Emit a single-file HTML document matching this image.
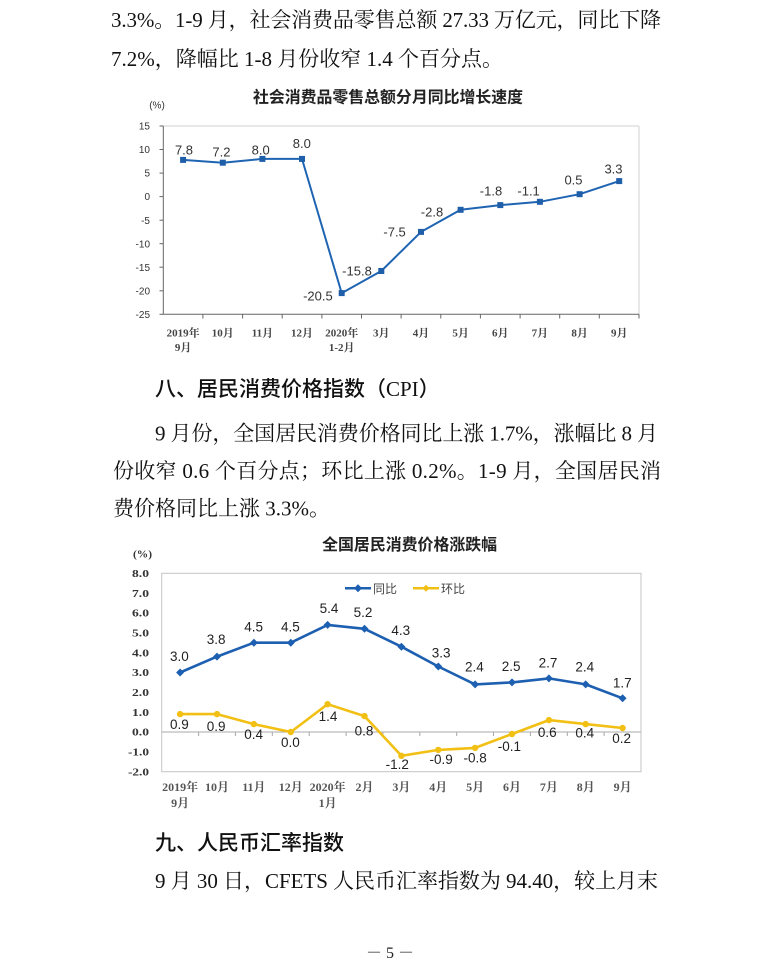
<!DOCTYPE html>
<html>
<head>
<meta charset="utf-8">
<style>
html,body{margin:0;padding:0;background:#fff;}
svg{display:block;}
.body{font-family:"Liberation Serif","Noto Serif CJK SC",serif;font-size:21px;fill:#111;}
.hd{font-family:"Liberation Sans","Noto Sans CJK SC",sans-serif;font-size:21px;font-weight:500;fill:#111;}
.ttl{font-family:"Liberation Sans","Noto Sans CJK SC",sans-serif;font-size:16px;font-weight:600;fill:#222;}
.yl1{font-family:"Liberation Sans",sans-serif;font-size:10px;fill:#333;}
.dl1{font-family:"Liberation Sans",sans-serif;font-size:13px;fill:#333;}
.xl{font-family:"Liberation Serif","Noto Serif CJK SC",serif;font-size:11px;font-weight:bold;fill:#444;}
.xl2{font-family:"Liberation Serif","Noto Serif CJK SC",serif;font-size:12px;font-weight:bold;fill:#555;}
.yl2{font-family:"Liberation Serif",serif;font-size:10.5px;font-weight:bold;fill:#333;}
.dl2{font-family:"Liberation Sans",sans-serif;font-size:13.5px;fill:#222;}
.lg{font-family:"Liberation Sans","Noto Sans CJK SC",sans-serif;font-size:12px;fill:#444;}
</style>
</head>
<body>
<svg width="776" height="959" viewBox="0 0 776 959" xmlns="http://www.w3.org/2000/svg">
<rect width="776" height="959" fill="#fff"/>

<!-- Top text -->
<text class="body" x="111" y="27" textLength="550" lengthAdjust="spacing">3.3%。1-9 月，社会消费品零售总额 27.33 万亿元，同比下降</text>
<text class="body" x="111" y="66">7.2%，降幅比 1-8 月份收窄 1.4 个百分点。</text>

<!-- Chart 1 -->
<text class="ttl" x="388" y="102.5" text-anchor="middle" textLength="270" lengthAdjust="spacingAndGlyphs">社会消费品零售总额分月同比增长速度</text>
<text class="yl1" x="157" y="108.5" text-anchor="middle">(%)</text>
<!-- plot border -->
<line x1="163.3" y1="126" x2="639" y2="126" stroke="#d0d0d0" stroke-width="1"/>
<line x1="639" y1="126" x2="639" y2="314.3" stroke="#d0d0d0" stroke-width="1"/>
<line x1="163.3" y1="126" x2="163.3" y2="314.3" stroke="#666" stroke-width="1"/>
<line x1="163.3" y1="314.3" x2="639" y2="314.3" stroke="#666" stroke-width="1"/>
<!-- y ticks -->
<g stroke="#666" stroke-width="1">
<line x1="159.5" y1="126" x2="163.3" y2="126"/>
<line x1="159.5" y1="149.5" x2="163.3" y2="149.5"/>
<line x1="159.5" y1="173.1" x2="163.3" y2="173.1"/>
<line x1="159.5" y1="196.6" x2="163.3" y2="196.6"/>
<line x1="159.5" y1="220.2" x2="163.3" y2="220.2"/>
<line x1="159.5" y1="243.7" x2="163.3" y2="243.7"/>
<line x1="159.5" y1="267.2" x2="163.3" y2="267.2"/>
<line x1="159.5" y1="290.8" x2="163.3" y2="290.8"/>
<line x1="159.5" y1="314.3" x2="163.3" y2="314.3"/>
</g>
<g class="yl1" text-anchor="end">
<text x="150" y="129.6">15</text>
<text x="150" y="153.1">10</text>
<text x="150" y="176.7">5</text>
<text x="150" y="200.2">0</text>
<text x="150" y="223.8">-5</text>
<text x="150" y="247.3">-10</text>
<text x="150" y="270.8">-15</text>
<text x="150" y="294.4">-20</text>
<text x="150" y="317.9">-25</text>
</g>
<!-- x ticks -->
<g stroke="#666" stroke-width="1">
<line x1="202.9" y1="314.3" x2="202.9" y2="318.5"/>
<line x1="242.6" y1="314.3" x2="242.6" y2="318.5"/>
<line x1="282.2" y1="314.3" x2="282.2" y2="318.5"/>
<line x1="321.9" y1="314.3" x2="321.9" y2="318.5"/>
<line x1="361.5" y1="314.3" x2="361.5" y2="318.5"/>
<line x1="401.1" y1="314.3" x2="401.1" y2="318.5"/>
<line x1="440.8" y1="314.3" x2="440.8" y2="318.5"/>
<line x1="480.4" y1="314.3" x2="480.4" y2="318.5"/>
<line x1="520.1" y1="314.3" x2="520.1" y2="318.5"/>
<line x1="559.7" y1="314.3" x2="559.7" y2="318.5"/>
<line x1="599.3" y1="314.3" x2="599.3" y2="318.5"/>
<line x1="639" y1="314.3" x2="639" y2="318.5"/>
</g>
<g class="xl" text-anchor="middle">
<text x="183.1" y="336.5">2019年</text>
<text x="183.1" y="351">9月</text>
<text x="222.8" y="336.5">10月</text>
<text x="262.4" y="336.5">11月</text>
<text x="302.0" y="336.5">12月</text>
<text x="341.7" y="336.5">2020年</text>
<text x="341.7" y="351">1-2月</text>
<text x="381.3" y="336.5">3月</text>
<text x="421.0" y="336.5">4月</text>
<text x="460.6" y="336.5">5月</text>
<text x="500.3" y="336.5">6月</text>
<text x="539.9" y="336.5">7月</text>
<text x="579.6" y="336.5">8月</text>
<text x="619.2" y="336.5">9月</text>
</g>
<!-- series -->
<polyline fill="none" stroke="#1f64b2" stroke-width="2" stroke-linejoin="round"
 points="183.1,159.9 222.8,162.7 262.4,158.9 302.0,158.9 341.7,293.1 381.3,271.0 421.0,231.9 460.6,209.8 500.3,205.1 539.9,201.8 579.6,194.2 619.2,181.1"/>
<g fill="#1f5faa">
<rect x="180.1" y="156.9" width="6" height="6"/>
<rect x="219.8" y="159.7" width="6" height="6"/>
<rect x="259.4" y="155.9" width="6" height="6"/>
<rect x="299.0" y="155.9" width="6" height="6"/>
<rect x="338.7" y="290.1" width="6" height="6"/>
<rect x="378.3" y="268.0" width="6" height="6"/>
<rect x="418.0" y="228.9" width="6" height="6"/>
<rect x="457.6" y="206.8" width="6" height="6"/>
<rect x="497.3" y="202.1" width="6" height="6"/>
<rect x="536.9" y="198.8" width="6" height="6"/>
<rect x="576.6" y="191.2" width="6" height="6"/>
<rect x="616.2" y="178.1" width="6" height="6"/>
</g>
<g class="dl1" text-anchor="middle">
<text x="184" y="154.6">7.8</text>
<text x="221.4" y="156.3">7.2</text>
<text x="260.7" y="154.6">8.0</text>
<text x="301.8" y="147.9">8.0</text>
<text x="317.9" y="300.6">-20.5</text>
<text x="357" y="275.3">-15.8</text>
<text x="394.6" y="236.3">-7.5</text>
<text x="432" y="216.3">-2.8</text>
<text x="491" y="195.6">-1.8</text>
<text x="528.6" y="195.6">-1.1</text>
<text x="573.5" y="184.6">0.5</text>
<text x="613.5" y="173.6">3.3</text>
</g>

<!-- Section 8 -->
<text class="hd" x="155" y="396">八、居民消费价格指数<tspan>（</tspan><tspan style="font-family:'Liberation Serif',serif;font-weight:normal">CPI</tspan><tspan>）</tspan></text>
<text class="body" x="155" y="440.5" textLength="503" lengthAdjust="spacing">9 月份，全国居民消费价格同比上涨 1.7%，涨幅比 8 月</text>
<text class="body" x="113" y="478" textLength="548" lengthAdjust="spacing">份收窄 0.6 个百分点；环比上涨 0.2%。1-9 月，全国居民消</text>
<text class="body" x="113" y="515.5">费价格同比上涨 3.3%。</text>

<!-- Chart 2 -->
<text class="ttl" x="409.6" y="550" text-anchor="middle" textLength="175" lengthAdjust="spacingAndGlyphs">全国居民消费价格涨跌幅</text>
<text class="yl2" x="142.5" y="557.5" text-anchor="middle" textLength="19" lengthAdjust="spacingAndGlyphs">(%)</text>
<rect x="161.7" y="573.3" width="479.3" height="198.4" fill="none" stroke="#c4c4c4" stroke-width="1"/>
<line x1="161.7" y1="732" x2="641" y2="732" stroke="#a8a8a8" stroke-width="1"/>
<g stroke="#a8a8a8" stroke-width="1">
<line x1="198.6" y1="732" x2="198.6" y2="736"/>
<line x1="235.4" y1="732" x2="235.4" y2="736"/>
<line x1="272.3" y1="732" x2="272.3" y2="736"/>
<line x1="309.2" y1="732" x2="309.2" y2="736"/>
<line x1="346.1" y1="732" x2="346.1" y2="736"/>
<line x1="382.9" y1="732" x2="382.9" y2="736"/>
<line x1="419.8" y1="732" x2="419.8" y2="736"/>
<line x1="456.7" y1="732" x2="456.7" y2="736"/>
<line x1="493.5" y1="732" x2="493.5" y2="736"/>
<line x1="530.4" y1="732" x2="530.4" y2="736"/>
<line x1="567.3" y1="732" x2="567.3" y2="736"/>
<line x1="604.1" y1="732" x2="604.1" y2="736"/>
</g>
<g class="yl2" text-anchor="end">
<text x="149" y="577" textLength="17" lengthAdjust="spacingAndGlyphs">8.0</text>
<text x="149" y="596.8" textLength="17" lengthAdjust="spacingAndGlyphs">7.0</text>
<text x="149" y="616.7" textLength="17" lengthAdjust="spacingAndGlyphs">6.0</text>
<text x="149" y="636.5" textLength="17" lengthAdjust="spacingAndGlyphs">5.0</text>
<text x="149" y="656.4" textLength="17" lengthAdjust="spacingAndGlyphs">4.0</text>
<text x="149" y="676.2" textLength="17" lengthAdjust="spacingAndGlyphs">3.0</text>
<text x="149" y="696" textLength="17" lengthAdjust="spacingAndGlyphs">2.0</text>
<text x="149" y="715.9" textLength="17" lengthAdjust="spacingAndGlyphs">1.0</text>
<text x="149" y="735.7" textLength="17" lengthAdjust="spacingAndGlyphs">0.0</text>
<text x="149" y="755.6" textLength="21" lengthAdjust="spacingAndGlyphs">-1.0</text>
<text x="149" y="775.4" textLength="21" lengthAdjust="spacingAndGlyphs">-2.0</text>
</g>
<g class="xl2" text-anchor="middle">
<text x="180.1" y="791">2019年</text>
<text x="180.1" y="807">9月</text>
<text x="217.0" y="791">10月</text>
<text x="253.9" y="791">11月</text>
<text x="290.8" y="791">12月</text>
<text x="327.6" y="791">2020年</text>
<text x="327.6" y="807">1月</text>
<text x="364.5" y="791">2月</text>
<text x="401.4" y="791">3月</text>
<text x="438.3" y="791">4月</text>
<text x="475.1" y="791">5月</text>
<text x="512.0" y="791">6月</text>
<text x="548.9" y="791">7月</text>
<text x="585.7" y="791">8月</text>
<text x="622.6" y="791">9月</text>
</g>
<!-- legend -->
<line x1="345" y1="588.3" x2="371" y2="588.3" stroke="#1d5fb0" stroke-width="2.5"/>
<path d="M358,584.3 L362,588.3 L358,592.3 L354,588.3 Z" fill="#1d5fb0"/>
<text class="lg" x="373" y="592.8">同比</text>
<line x1="413" y1="588.3" x2="439" y2="588.3" stroke="#f2c014" stroke-width="2.5"/>
<path d="M426,584.8 L429.5,588.3 L426,591.8 L422.5,588.3 Z" fill="#f2c014"/>
<text class="lg" x="441" y="592.8">环比</text>
<!-- blue series -->
<polyline fill="none" stroke="#1d5fb0" stroke-width="2.6" stroke-linejoin="round"
 points="180.1,672.5 217.0,656.6 253.9,642.7 290.8,642.7 327.6,624.9 364.5,628.8 401.4,646.7 438.3,666.5 475.1,684.4 512.0,682.4 548.9,678.4 585.7,684.4 622.6,698.3"/>
<g fill="#1d5fb0">
<path d="M180.1,668.5 l4,4 l-4,4 l-4,-4 Z"/>
<path d="M217.0,652.6 l4,4 l-4,4 l-4,-4 Z"/>
<path d="M253.9,638.7 l4,4 l-4,4 l-4,-4 Z"/>
<path d="M290.8,638.7 l4,4 l-4,4 l-4,-4 Z"/>
<path d="M327.6,620.9 l4,4 l-4,4 l-4,-4 Z"/>
<path d="M364.5,624.8 l4,4 l-4,4 l-4,-4 Z"/>
<path d="M401.4,642.7 l4,4 l-4,4 l-4,-4 Z"/>
<path d="M438.3,662.5 l4,4 l-4,4 l-4,-4 Z"/>
<path d="M475.1,680.4 l4,4 l-4,4 l-4,-4 Z"/>
<path d="M512.0,678.4 l4,4 l-4,4 l-4,-4 Z"/>
<path d="M548.9,674.4 l4,4 l-4,4 l-4,-4 Z"/>
<path d="M585.7,680.4 l4,4 l-4,4 l-4,-4 Z"/>
<path d="M622.6,694.3 l4,4 l-4,4 l-4,-4 Z"/>
</g>
<!-- yellow series -->
<polyline fill="none" stroke="#f2c014" stroke-width="2.6" stroke-linejoin="round"
 points="180.1,714.1 217.0,714.1 253.9,724.1 290.8,732.0 327.6,704.2 364.5,716.1 401.4,755.8 438.3,749.9 475.1,747.9 512.0,734.0 548.9,720.1 585.7,724.1 622.6,728.0"/>
<g fill="#f2c014">
<circle cx="180.1" cy="714.1" r="3.2"/>
<circle cx="217.0" cy="714.1" r="3.2"/>
<circle cx="253.9" cy="724.1" r="3.2"/>
<circle cx="290.8" cy="732.0" r="3.2"/>
<circle cx="327.6" cy="704.2" r="3.2"/>
<circle cx="364.5" cy="716.1" r="3.2"/>
<circle cx="401.4" cy="755.8" r="3.2"/>
<circle cx="438.3" cy="749.9" r="3.2"/>
<circle cx="475.1" cy="747.9" r="3.2"/>
<circle cx="512.0" cy="734.0" r="3.2"/>
<circle cx="548.9" cy="720.1" r="3.2"/>
<circle cx="585.7" cy="724.1" r="3.2"/>
<circle cx="622.6" cy="728.0" r="3.2"/>
</g>
<g class="dl2" text-anchor="middle">
<text x="179.4" y="660.8">3.0</text>
<text x="216.2" y="644.1">3.8</text>
<text x="253.7" y="631.5">4.5</text>
<text x="290.4" y="631.5">4.5</text>
<text x="329" y="613.1">5.4</text>
<text x="363" y="617.1">5.2</text>
<text x="400.8" y="634.8">4.3</text>
<text x="441.1" y="657.5">3.3</text>
<text x="474.4" y="671.5">2.4</text>
<text x="511.2" y="670.8">2.5</text>
<text x="548" y="667.5">2.7</text>
<text x="584.8" y="671.5">2.4</text>
<text x="622.3" y="687.5">1.7</text>

<text x="179.4" y="729.1">0.9</text>
<text x="216.2" y="730.8">0.9</text>
<text x="253.7" y="738.8">0.4</text>
<text x="290.4" y="747.1">0.0</text>
<text x="328" y="720.8">1.4</text>
<text x="364" y="735.5">0.8</text>
<text x="397.3" y="768.8">-1.2</text>
<text x="441.1" y="764.1">-0.9</text>
<text x="475.1" y="762.5">-0.8</text>
<text x="509.4" y="750.8">-0.1</text>
<text x="547.3" y="737.1">0.6</text>
<text x="584.8" y="737.5">0.4</text>
<text x="621.6" y="743.1">0.2</text>
</g>

<!-- Section 9 -->
<text class="hd" x="155" y="850">九、人民币汇率指数</text>
<text class="body" x="155" y="888" textLength="503" lengthAdjust="spacing">9 月 30 日，CFETS 人民币汇率指数为 94.40，较上月末</text>

<!-- page number -->
<text x="390" y="958" text-anchor="middle" style="font-family:'Liberation Serif','Noto Serif CJK SC',serif;font-size:16px;fill:#222;">－ 5 －</text>
</svg>
</body>
</html>
